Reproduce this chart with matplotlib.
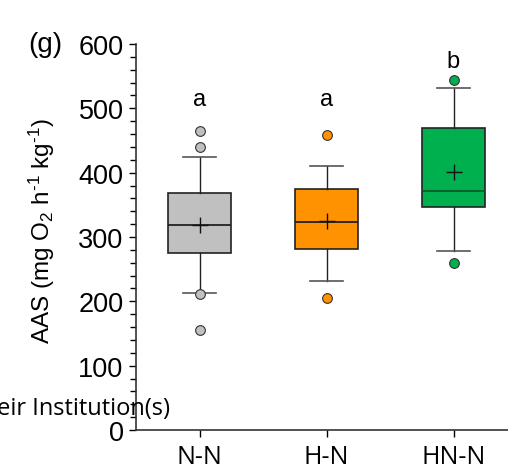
import matplotlib
matplotlib.use("Agg")
import matplotlib.pyplot as plt
from matplotlib.ticker import MultipleLocator

plt.rcParams["mathtext.fontset"] = "custom"
plt.rcParams["mathtext.rm"] = "Liberation Sans"
plt.rcParams["mathtext.it"] = "Liberation Sans"

categories = ["N-N", "H-N", "HN-N"]
q1 = [275, 281, 346]
med = [319, 324, 371]
q3 = [368, 375, 470]
whislo = [213, 232, 278]
whishi = [425, 411, 531]
means = [318, 325, 401]
fliers = [[465, 440, 211, 156], [459, 205], [544, 260]]
letters = ["a", "a", "b"]
letter_y = [515, 515, 574]
face_colors = ["#c0c0c0", "#ff9200", "#00b04f"]
median_colors = ["#222222", "#222222", "#0b5a2a"]

W, H = 508, 477
fig = plt.figure(figsize=(W / 100, H / 100), dpi=100)
ax = fig.add_axes([136 / W, (H - 431) / H, 381 / W, (431 - 45) / H])

stats = []
for i, c in enumerate(categories):
    stats.append(dict(label=c, q1=q1[i], med=med[i], q3=q3[i], whislo=whislo[i],
                      whishi=whishi[i], mean=means[i], fliers=fliers[i]))

pos = list(range(len(categories)))
for i in pos:
    ax.bxp([stats[i]], positions=[i], widths=0.5, patch_artist=True, showmeans=True,
           capwidths=[0.26], manage_ticks=False,
           boxprops=dict(facecolor=face_colors[i], edgecolor="#222222", linewidth=1.2),
           medianprops=dict(color=median_colors[i], linewidth=1.3),
           whiskerprops=dict(color="#222222", linewidth=1.0),
           capprops=dict(color="#555555", linewidth=1.2),
           meanprops=dict(marker="+", markeredgecolor="#111111", markersize=11, markeredgewidth=1.0),
           flierprops=dict(marker="o", markerfacecolor=face_colors[i], markeredgecolor="#333333",
                           markersize=7, markeredgewidth=0.8))
    ax.text(i, letter_y[i], letters[i], ha="center", va="center", fontsize=17,
            family="Liberation Sans")

ax.set_xlim(-0.5, 2.5)
ax.set_ylim(0, 600)
ax.set_xticks(pos)
ax.set_xticklabels(categories, fontsize=18, family="Open Sans")
ax.yaxis.set_major_locator(MultipleLocator(100))
ax.yaxis.set_minor_locator(MultipleLocator(20))
for lab in ax.get_yticklabels():
    lab.set_family("Liberation Sans")
    lab.set_fontsize(19.5)
ax.tick_params(axis="y", which="major", length=5, width=1, pad=4)
ax.tick_params(axis="y", which="minor", length=4, width=1)
ax.tick_params(axis="x", which="major", length=5, width=1, pad=5)
ax.spines["top"].set_visible(False)
ax.spines["right"].set_visible(False)
for s in ["left", "bottom"]:
    ax.spines[s].set_linewidth(1.2)
    ax.spines[s].set_color("#333333")

ax.set_ylabel("AAS (mg O$_2$ h$^{\u20101}$ kg$^{\u20101}$)", fontsize=17.5, family="Liberation Sans")
ax.yaxis.set_label_coords(57 / W, 1 - 231 / H, transform=fig.transFigure)

fig.text(28 / W, 1 - 45 / H, "(g)", fontsize=20, family="Liberation Sans", va="center", ha="left")
fig.text(170 / W, 1 - 409 / H, "eir Institution(s)", fontsize=17, family="Open Sans",
         va="center", ha="right")

fig.savefig("out.png", dpi=100)
